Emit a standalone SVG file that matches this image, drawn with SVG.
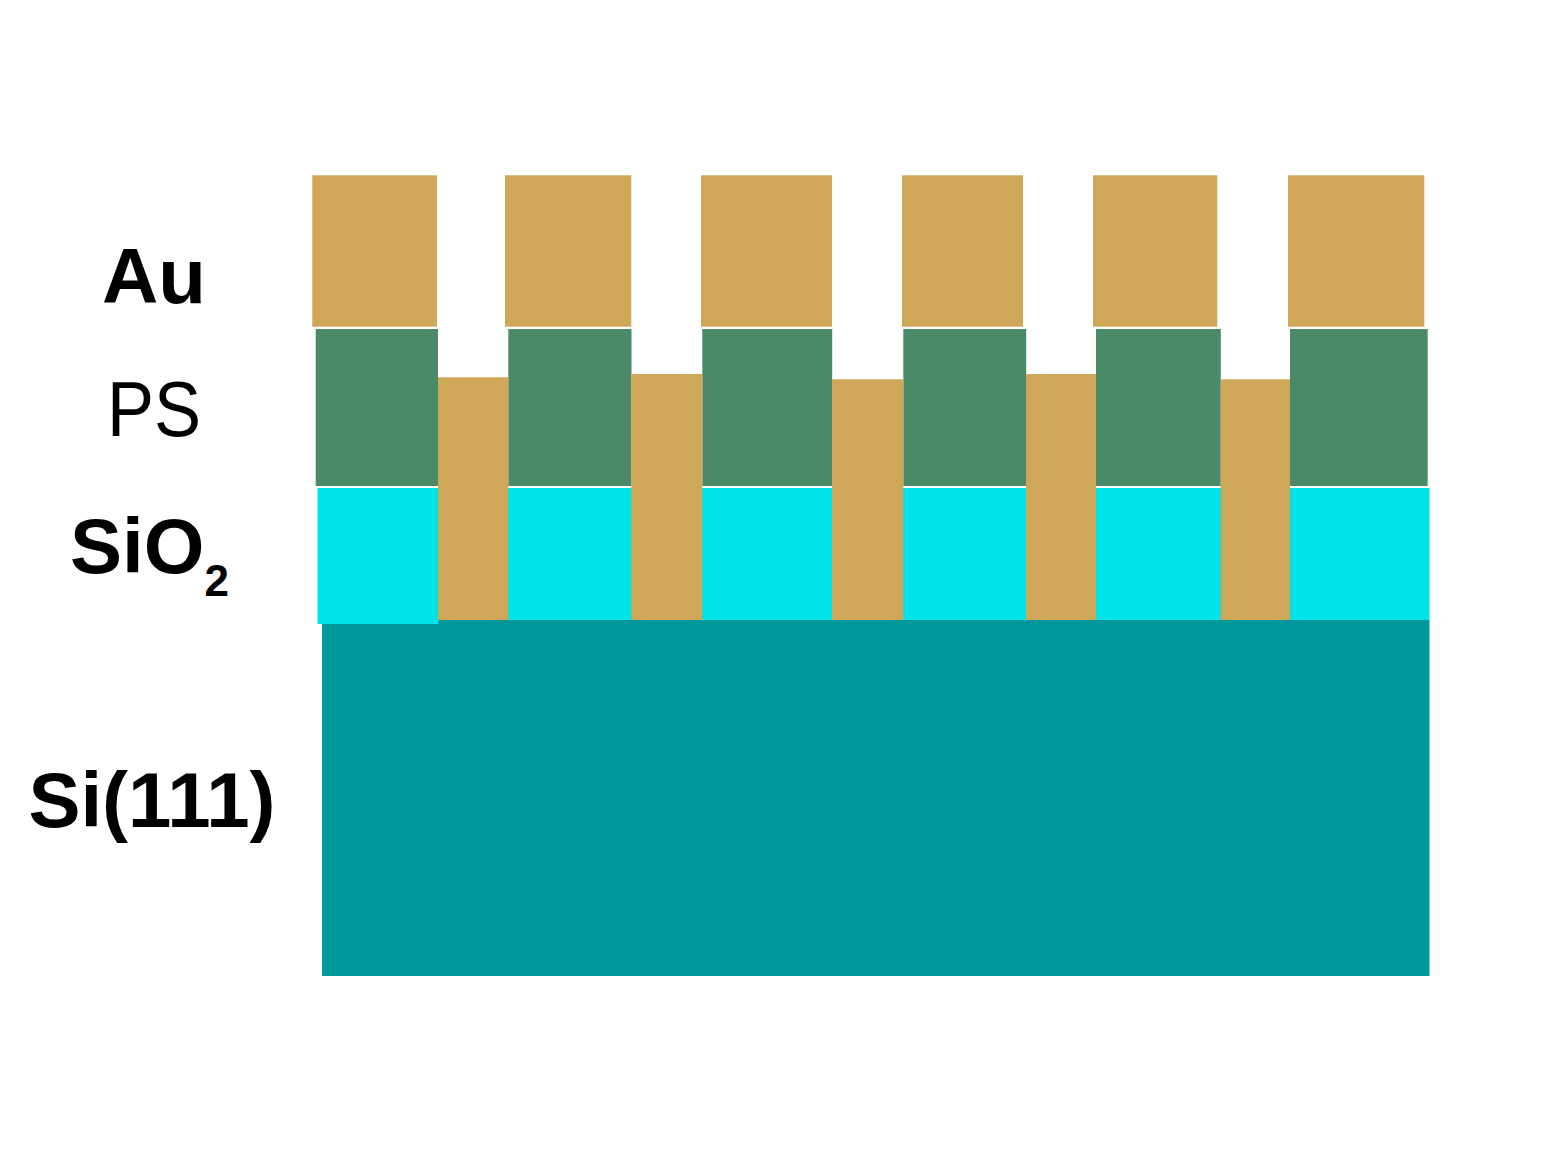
<svg xmlns="http://www.w3.org/2000/svg" width="1554" height="1172" viewBox="0 0 1554 1172">
<style>
.au{fill:#CFA758}
.ps{fill:#4A8A66}
.ox{fill:#00E3E8}
.si{fill:#00989A}
.lb{font-family:"Liberation Sans",Arial,sans-serif;font-size:78px;fill:#000}
.b{font-weight:bold}
.sub{font-size:44px}
</style>
<rect width="1554" height="1172" fill="#fff"/>
<g id="si-substrate">
<rect class="si" x="322" y="620" width="1107.5" height="356"/>
</g>
<g id="sio2-layer">
<rect class="ox" x="317.5" y="488" width="121" height="136"/>
<rect class="ox" x="508" y="488" width="124" height="132"/>
<rect class="ox" x="702" y="488" width="130.5" height="132"/>
<rect class="ox" x="903" y="488" width="123.5" height="132"/>
<rect class="ox" x="1096" y="488" width="125" height="132"/>
<rect class="ox" x="1290" y="488" width="139.5" height="132"/>
</g>
<g id="ps-layer">
<rect class="ps" x="315.7" y="329" width="122.3" height="157"/>
<rect class="ps" x="508.3" y="329" width="123.2" height="157"/>
<rect class="ps" x="702.3" y="329" width="129.9" height="157"/>
<rect class="ps" x="903.3" y="329" width="122.9" height="157"/>
<rect class="ps" x="1096" y="329" width="124.8" height="157"/>
<rect class="ps" x="1290" y="329" width="137.7" height="157"/>
</g>
<g id="au-pillars">
<rect class="au" x="438" y="377.3" width="70.3" height="242.7"/>
<rect class="au" x="631.3" y="374" width="70.9" height="246"/>
<rect class="au" x="832" y="379.3" width="71.3" height="240.7"/>
<rect class="au" x="1026" y="374" width="70" height="246"/>
<rect class="au" x="1220.7" y="379.3" width="69.3" height="240.7"/>
</g>
<g id="au-layer">
<rect class="au" x="312.3" y="175.3" width="124.7" height="151.4"/>
<rect class="au" x="505" y="175.3" width="126.3" height="151.4"/>
<rect class="au" x="701" y="175.3" width="131" height="151.4"/>
<rect class="au" x="902" y="175.3" width="121" height="151.4"/>
<rect class="au" x="1093" y="175.3" width="124.3" height="151.4"/>
<rect class="au" x="1288" y="175.3" width="136.3" height="151.4"/>
</g>
<g id="labels">
<text class="lb b" x="154" y="302.7" text-anchor="middle">Au</text>
<text class="lb" x="154" y="435.7" text-anchor="middle" textLength="94" lengthAdjust="spacingAndGlyphs">PS</text>
<text class="lb b" x="70" y="573.3">SiO<tspan class="sub" dy="23">2</tspan></text>
<text class="lb b" x="152" y="827.3" text-anchor="middle">Si(111)</text>
</g>
</svg>
